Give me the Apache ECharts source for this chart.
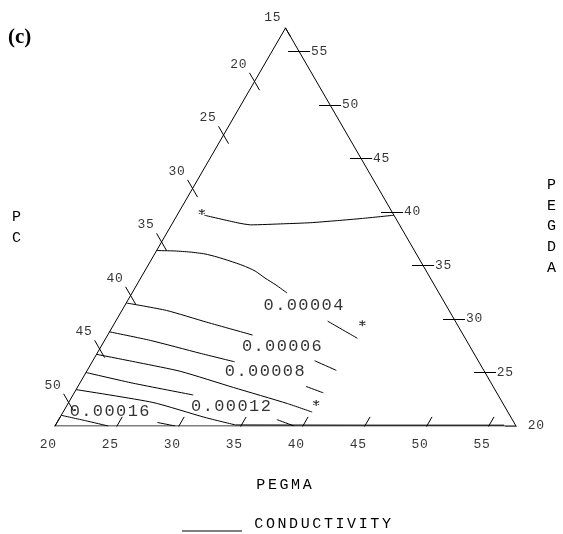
<!DOCTYPE html>
<html><head><meta charset="utf-8">
<script src="https://cdn.jsdelivr.net/npm/echarts@6/dist/echarts.min.js"></script>
<style>html,body{margin:0;padding:0;background:#fff}#c{width:563px;height:534px}</style>
</head><body><div id="c"></div>
<script>
// ternary sub-region: lower limits of each component and edge span (wt %)
const PC_MIN = 15, PEGMA_MIN = 20, PEGDA_MIN = 20, SPAN = 37.2;
const TOTAL = PC_MIN + PEGMA_MIN + PEGDA_MIN + SPAN;

const PC_TICKS = [15, 20, 25, 30, 35, 40, 45, 50];
const PEGMA_TICKS = [20, 25, 30, 35, 40, 45, 50, 55];
const PEGDA_TICKS = [20, 25, 30, 35, 40, 45, 50, 55];

// conductivity iso-lines, points as [PEGMA, PEGDA] (PC = remainder)
const c2 = [[22.2,39.7],[25.2,39.0],[26.4,38.8],[29.0,38.9],[31.1,39.0],[33.2,39.2],[35.1,39.4],[37.5,39.7]];
const c4a = [[20,36.4],[21.5,36.36],[22.76,36.26],[24.06,36.08],[25.17,35.8],[26.41,35.42],[27.67,35.0],[28.9,34.49],[30.03,33.83],[31.24,33.18],[32.51,32.43]];
const c4b = [[37.1,29.8],[40.3,28.2]];
const c6a = [[20,31.5],[23.6,30.8],[27.4,29.7],[31.7,28.5]];
const c6b = [[37.9,26.1],[40.1,25.2]];
const c8a = [[20,28.8],[23.7,28.0],[28.3,26.8],[31.5,26.0]];
const c8b = [[38.4,23.7],[40.1,23.1]];
const c10 = [[20,26.7],[23.9,25.9],[27.6,25.1],[32.6,23.6],[37.7,22.1],[40.1,21.3]];
const c12a = [[20,25.0],[24.3,24.0],[29.7,22.9]];
const c12b = [[37.6,20.6],[39.3,20.0]];
const c14a = [[20,23.4],[26.8,22.2],[31.7,20.8],[34.5,20.1]];
const c14b = [[34.5,20.1],[45,20.08],[56.2,20.08]];
const c16a = [[20,21.0],[22.2,20.5],[24.3,20.0]];
const c16b = [[28.1,20.33],[29.7,20.0]];
const CONTOURS = [c2, c4a, c4b, c6a, c6b, c8a, c8b, c10, c12a, c12b, c14a, c14b, c16a, c16b];

const CONTOUR_LABELS = ['0.00004', '0.00006', '0.00008', '0.00012', '0.00016'];
const CONTOUR_LABEL_AT = [[34.4,31.3],[34.6,27.4],[34.4,25.05],[33.3,21.8],[23.7,21.4]];

const STARS = [[21.85,40.0],[40.0,29.6],[40.0,22.15]];

const H = Math.sqrt(3) / 2;
function xy(p) { return [(p[0] - PEGMA_MIN) + (p[1] - PEGDA_MIN) / 2, (p[1] - PEGDA_MIN) * H]; }
function sp(s, k) { return s.split('').map(ch => '{' + k + '|' + ch + '}').join(''); }

const MONO = 'Liberation Mono';
const richT = { t: { fontFamily: MONO, fontSize: 13, width: 8.5, align: 'center', color: '#000' } };
const richC = { c: { fontFamily: MONO, fontSize: 17, width: 11.6, align: 'center', color: '#000' } };
const richM = { m: { fontFamily: MONO, fontSize: 15, width: 11.6, align: 'center', color: '#000', lineHeight: 16 } };

// triangle frame
const frame = [[PEGMA_MIN, PEGDA_MIN], [PEGMA_MIN, TOTAL - PC_MIN - PEGMA_MIN], [TOTAL - PC_MIN - PEGDA_MIN, PEGDA_MIN], [PEGMA_MIN, PEGDA_MIN]];

// ticks
const tickSegs = [], tickLabels = [];
PC_TICKS.forEach(v => {
  const g = TOTAL - v - PEGMA_MIN, d = 0.81;
  tickSegs.push({ coords: [xy([PEGMA_MIN - d, g + d]), xy([PEGMA_MIN + d, g - d])] });
  tickLabels.push({ value: xy([PEGMA_MIN, g]), label: { formatter: sp(String(v), 't'), offset: v === 15 ? [-13, -10] : [-16, -17] } });
});
PEGMA_TICKS.forEach(v => {
  const d = 0.85;
  tickSegs.push({ coords: [xy([v, PEGDA_MIN - d]), xy([v, PEGDA_MIN + d])] });
  tickLabels.push({ value: xy([v, PEGDA_MIN]), label: { formatter: sp(String(v), 't'), offset: [-7, 19] } });
});
PEGDA_TICKS.forEach(v => {
  const m = TOTAL - PC_MIN - v, d = 0.89;
  tickSegs.push({ coords: [xy([m - d, v]), xy([m + d, v])] });
  tickLabels.push({ value: xy([m, v]), label: { formatter: sp(String(v), 't'), offset: [20, 0] } });
});

const series = [];
series.push({ type: 'line', name: 'frame', data: frame.map(xy), symbol: 'none', silent: true,
  lineStyle: { color: '#000', width: 1 } });
CONTOURS.forEach((c, i) => {
  series.push({ type: 'line', name: 'CONDUCTIVITY', data: c.map(xy), symbol: 'none', silent: true,
    smooth: (c === c14b) ? false : 0.2,
    lineStyle: { color: '#000', width: 1 }, itemStyle: { color: '#000' } });
});
series.push({ type: 'lines', coordinateSystem: 'cartesian2d', data: tickSegs, silent: true,
  lineStyle: { color: '#000', width: 1, opacity: 1 } });
series.push({ type: 'scatter', data: tickLabels, symbolSize: 1, silent: true, itemStyle: { color: 'rgba(0,0,0,0)' },
  label: { show: true, position: 'inside', rich: richT }, z: 5 });
series.push({ type: 'scatter', silent: true, symbolSize: 1, itemStyle: { color: 'rgba(0,0,0,0)' },
  data: CONTOUR_LABEL_AT.map((p, i) => ({ value: xy(p), label: { formatter: sp(CONTOUR_LABELS[i], 'c') } })),
  label: { show: true, position: 'inside', rich: richC }, z: 5 });
series.push({ type: 'scatter', silent: true, data: STARS.map(xy), symbol: 'path://M4,0L4,8M0.5,2L7.5,6M0.5,6L7.5,2',
  symbolSize: 6, itemStyle: { color: 'rgba(0,0,0,0)', borderColor: '#000', borderWidth: 1.2 }, z: 6 });

const chart = echarts.init(document.getElementById('c'), null, { renderer: 'canvas' });
chart.setOption({
  backgroundColor: '#fff',
  animation: false,
  color: ['#000'],
  title: [
    { text: '(c)', left: 8, top: 27, padding: 0,
      textStyle: { fontFamily: 'Liberation Serif', fontSize: 21, fontWeight: 'bold', color: '#000' } },
    { text: 'P\nC', left: 12, top: 206.5, padding: 0,
      textStyle: { fontFamily: MONO, fontSize: 15, lineHeight: 21, fontWeight: 'normal', color: '#000' } },
    { text: 'P\nE\nG\nD\nA', left: 547, top: 175, padding: 0,
      textStyle: { fontFamily: MONO, fontSize: 15, lineHeight: 20.6, fontWeight: 'normal', color: '#000' } },
    { text: sp('PEGMA', 'm'), left: 255, top: 477, padding: 0,
      textStyle: { rich: richM, fontWeight: 'normal' } }
  ],
  legend: {
    left: 182, top: 517, padding: 0, selectedMode: false, itemWidth: 60, itemHeight: 14,
    data: [{ name: 'CONDUCTIVITY', icon: 'path://M0,0L60,0L60,0Z M0,13L60,13L60,14L0,14Z' }],
    itemStyle: { color: '#000', borderWidth: 0 },
    formatter: n => sp(n, 'm'),
    textStyle: { padding: [0, 0, 0, 6], rich: richM }
  },
  grid: { left: 55, top: 28, width: 461, height: 398, containLabel: false },
  xAxis: { type: 'value', min: 0, max: SPAN, show: false },
  yAxis: { type: 'value', min: 0, max: SPAN * H, show: false },
  series: series
});
</script></body></html>
